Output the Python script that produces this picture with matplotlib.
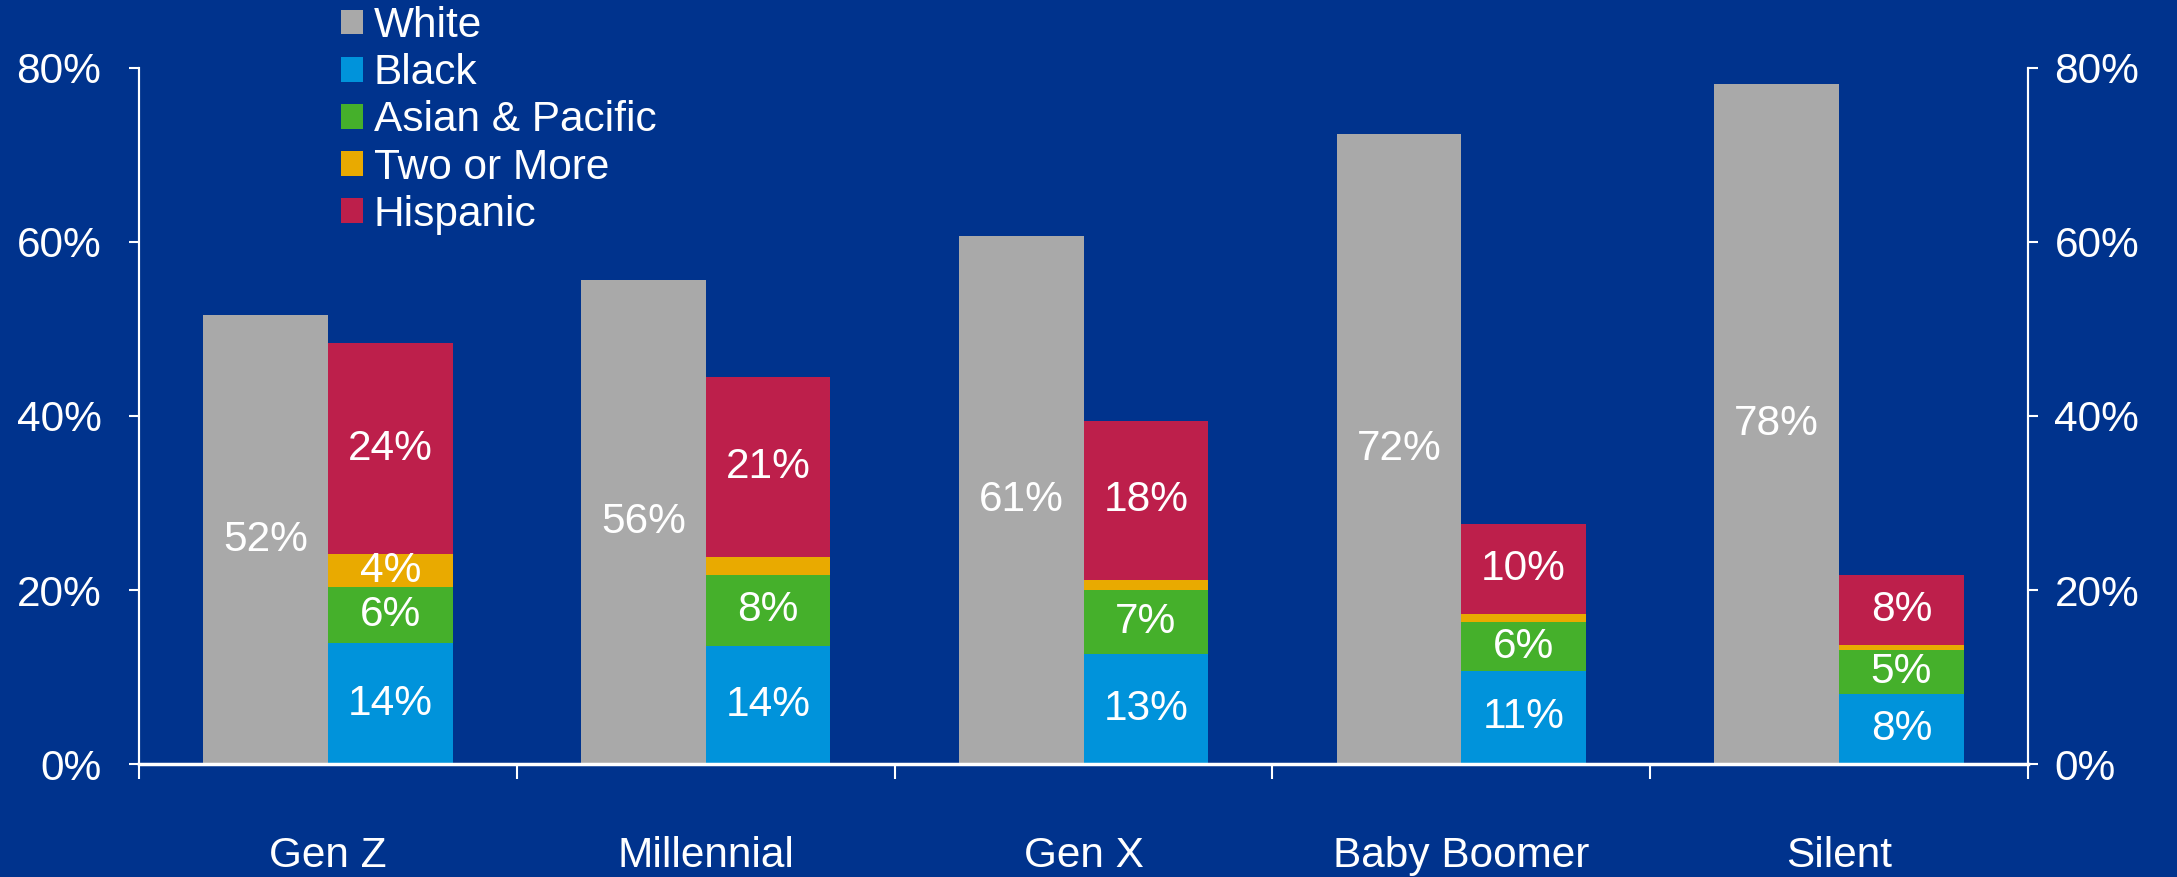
import matplotlib
matplotlib.use("Agg")
import matplotlib.pyplot as plt
from matplotlib.patches import Patch
from matplotlib.ticker import FixedLocator, PercentFormatter

plt.rcParams['font.family'] = ['Liberation Sans', 'DejaVu Sans']

# Share of each generation by race / ethnicity (%)
generations = ["Gen Z", "Millennial", "Gen X", "Baby Boomer", "Silent"]
white = [51.6, 55.6, 60.7, 72.4, 78.2]
black = [13.9, 13.6, 12.6, 10.7, 8.1]
asian_pacific = [6.4, 8.1, 7.4, 5.6, 5.0]
two_or_more = [3.8, 2.1, 1.2, 0.9, 0.6]
hispanic = [24.3, 20.7, 18.2, 10.4, 8.0]

# which stacked segments carry a value label
label_two_or_more = [True, False, False, False, False]

BG = "#00338D"
C_WHITE = "#A9A9A9"
C_BLACK = "#0093DB"
C_ASIAN = "#45B02B"
C_TWO = "#E9AA00"
C_HISP = "#BD1F4B"
FG = "white"
FS = 30.5

fig = plt.figure(figsize=(21.77, 8.77), dpi=100, facecolor=BG)
ax = fig.add_axes([139 / 2177, 1 - 764 / 877, (2028 - 139) / 2177, (764 - 68) / 877])
ax.set_facecolor(BG)

x = list(range(len(generations)))
w = 0.33

ax.bar(x, white, width=-w, align="edge", color=C_WHITE, linewidth=0)
bottom = [0.0] * len(x)
stack = [(black, C_BLACK), (asian_pacific, C_ASIAN), (two_or_more, C_TWO), (hispanic, C_HISP)]
for vals, col in stack:
    ax.bar(x, vals, width=w, align="edge", bottom=bottom, color=col, linewidth=0)
    for i, v in enumerate(vals):
        show = label_two_or_more[i] if vals is two_or_more else True
        if show:
            ax.text(x[i] + w / 2, bottom[i] + v / 2, f"{v:.0f}%", ha="center", va="center",
                    color=FG, fontsize=FS)
    bottom = [b + v for b, v in zip(bottom, vals)]

for i, v in enumerate(white):
    ax.text(x[i] - w / 2, v / 2, f"{v:.0f}%", ha="center", va="center", color=FG, fontsize=FS)

ax.set_xlim(-0.5, len(x) - 0.5)
ax.set_ylim(0, 80)
yticks = [0, 20, 40, 60, 80]
ax.yaxis.set_major_locator(FixedLocator(yticks))
ax.yaxis.set_major_formatter(PercentFormatter(decimals=0))

ax.xaxis.set_major_locator(FixedLocator([i - 0.5 for i in range(len(x) + 1)]))
ax.xaxis.set_minor_locator(FixedLocator(x))
ax.set_xticklabels([], minor=False)
ax.set_xticklabels(generations, minor=True)
ax.tick_params(axis="x", which="major", direction="out", length=11, width=1.5, color=FG)
ax.tick_params(axis="x", which="minor", length=0, pad=52, labelsize=FS, labelcolor=FG)
ax.tick_params(axis="y", which="major", direction="out", length=7, width=1.5, color=FG,
               labelsize=FS, labelcolor=FG, pad=20)

# mirrored percentage scale on the right
ax2 = ax.twinx()
ax2.set_ylim(ax.get_ylim())
ax2.yaxis.set_major_locator(FixedLocator(yticks))
ax2.yaxis.set_major_formatter(PercentFormatter(decimals=0))
ax2.tick_params(axis="y", which="major", direction="out", length=7, width=1.5, color=FG,
                labelsize=FS, labelcolor=FG, pad=12)

for a in (ax, ax2):
    for s in ["left", "right", "bottom"]:
        a.spines[s].set_color(FG)
        a.spines[s].set_linewidth(1.5)
    a.spines["top"].set_visible(False)
ax.spines["bottom"].set_linewidth(2.5)
ax2.spines["bottom"].set_visible(False)

handles = [Patch(facecolor=c, edgecolor="none") for c in [C_WHITE, C_BLACK, C_ASIAN, C_TWO, C_HISP]]
labels = ["White", "Black", "Asian & Pacific", "Two or More", "Hispanic"]
fig.legend(handles, labels, loc="upper left", bbox_to_anchor=(341 / 2177, 1 - 6 / 877),
           frameon=False, fontsize=FS, labelcolor=FG, handlelength=0.52,
           handleheight=0.52, handletextpad=0.25, labelspacing=0.17, borderpad=0,
           borderaxespad=0)

fig.savefig("out.png", dpi=100, facecolor=BG)
